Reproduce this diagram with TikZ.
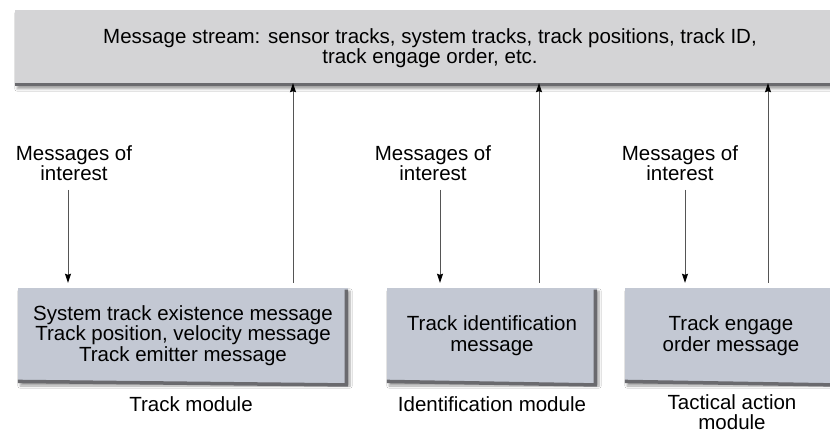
\documentclass[tikz,border=0pt]{standalone}
\usepackage{fontspec}
\setmainfont{Liberation Sans}
\usetikzlibrary{arrows.meta,shadows.blur}
\definecolor{barfill}{HTML}{D4D4D6}
\definecolor{boxfill}{HTML}{C3C8D3}
\definecolor{edgegray}{HTML}{6A6A6E}
\definecolor{linegray}{HTML}{555555}
\tikzset{
  txt/.style={font=\fontsize{20.5}{20.5}\selectfont, align=center, inner sep=0pt},
  panel/.style={txt, rectangle, fill=#1, minimum height=95pt,
    blur shadow={shadow xshift=2pt, shadow yshift=-3pt, shadow blur steps=6, shadow opacity=35}},
  edge/.style={edgegray, line width=3.5pt},
  arr/.style={linegray, line width=0.9pt, -{Stealth[length=9pt,width=6pt,inset=1pt,black]}},
}
\begin{document}
\begin{tikzpicture}[x=1pt,y=-1pt]
\useasboundingbox (0,0) rectangle (830,435);
\fill[white] (0,0) rectangle (830,435);

% message stream bar
\node[panel=barfill, minimum width=830pt, minimum height=76pt] (stream) at (430,48)
  {Message stream: sensor tracks, system tracks, track positions, track ID,\\track engage order, etc.};
\draw[edge] ([yshift=1.75pt]stream.south west) -- ([yshift=1.75pt]stream.south east);

% module boxes
\node[panel=boxfill, minimum width=330pt] (trk) at (183,335.5)
  {System track existence message\\Track position, velocity message\\Track emitter message};
\node[panel=boxfill, minimum width=210pt] (ident) at (492,335.5)
  {Track identification\\message};
\node[panel=boxfill, minimum width=212pt] (tac) at (731,335.5)
  {Track engage\\order message};
\foreach \b in {trk,ident,tac}{
  \draw[edge] ([shift={(-1.75pt,-1.75pt)}]\b.north east) -- ([shift={(-1.75pt,-1.75pt)}]\b.south east)
    -- ([yshift=1.75pt]\b.south west);
}

% module captions
\node[txt] (trkcap) at (191,404) {Track module};
\node[txt] (identcap) at (492,404) {Identification module};
\node[txt] (taccap) at (732,412) {Tactical action\\module};

% messages of interest labels
\node[txt, inner sep=3pt] (moi1) at (74,163) {Messages of\\interest};
\node[txt, inner sep=3pt] (moi2) at (433,163) {Messages of\\interest};
\node[txt, inner sep=3pt] (moi3) at (680,163) {Messages of\\interest};

% connector columns
\coordinate (d1) at (68,0);   \coordinate (u1) at (293,0);
\coordinate (d2) at (440,0);  \coordinate (u2) at (539,0);
\coordinate (d3) at (685,0);  \coordinate (u3) at (768,0);

% inbound messages
\draw[arr, shorten >=5pt] ([yshift=-6pt]moi1.south -| d1) -- (trk.north -| d1);
\draw[arr, shorten >=5pt] ([yshift=-6pt]moi2.south -| d2) -- (ident.north -| d2);
\draw[arr, shorten >=5pt] ([yshift=-6pt]moi3.south -| d3) -- (tac.north -| d3);

% outbound messages
\draw[arr, shorten <=5pt, shorten >=-3pt] (trk.north -| u1) -- (stream.south -| u1);
\draw[arr, shorten <=5pt, shorten >=-3pt] (ident.north -| u2) -- (stream.south -| u2);
\draw[arr, shorten <=5pt, shorten >=-3pt] (tac.north -| u3) -- (stream.south -| u3);
\end{tikzpicture}
\end{document}
